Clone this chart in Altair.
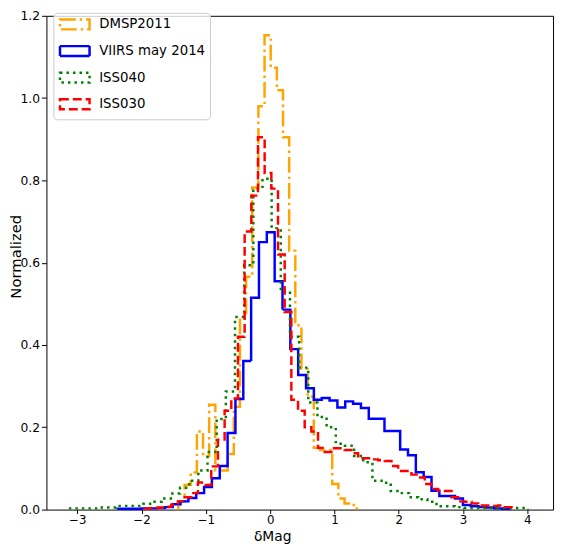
import altair as alt
import pandas as pd

series = ["DMSP2011", "VIIRS may 2014", "ISS040", "ISS030"]
colors = ["#FFA500", "#0000FF", "#008000", "#FF0000"]
dashes = [[16, 4, 2.5, 4], [1, 0], [2.5, 4.1], [9, 4]]

# histogram bins: first edge, bin width, heights
dmsp_start, dmsp_width = -1.427, 0.0957
dmsp_h = [0.02, 0.06, 0.09, 0.19, 0.13, 0.255, 0.095, 0.095, 0.135, 0.25,
          0.468, 0.566, 0.783, 0.98, 1.153, 1.074, 1.019, 0.905, 0.629, 0.448,
          0.342, 0.275, 0.15, 0.145, 0.145, 0.062, 0.027, 0.015, 0.011]

viirs_start, viirs_width = -2.37, 0.122
viirs_h = [0.002, 0.002, 0.002, 0.003, 0.003, 0.004, 0.006, 0.013, 0.02, 0.028,
           0.04, 0.055, 0.076, 0.106, 0.186, 0.269, 0.361, 0.515, 0.65, 0.674,
           0.555, 0.486, 0.39, 0.327, 0.295, 0.267, 0.271, 0.265, 0.248, 0.263,
           0.257, 0.247, 0.221, 0.221, 0.191, 0.191, 0.146, 0.132, 0.091, 0.079,
           0.046, 0.033, 0.033, 0.027, 0.011, 0.008, 0.006, 0.005, 0.003, 0.002]

iss040_start, iss040_width = -3.112, 0.1425
iss040_h = [0.003, 0.003, 0.003, 0.005, 0.005, 0.009, 0.009, 0.009, 0.014, 0.019,
            0.027, 0.039, 0.053, 0.07, 0.095, 0.14, 0.22, 0.287, 0.468, 0.594,
            0.78, 0.804, 0.684, 0.53, 0.42, 0.345, 0.26, 0.225, 0.2, 0.16,
            0.155, 0.13, 0.115, 0.07, 0.065, 0.045, 0.04, 0.03, 0.025, 0.019,
            0.008, 0.008, 0.006, 0.004, 0.004, 0.004, 0.004, 0.004, 0.004, 0.004]

iss030_start, iss030_width = -1.954, 0.1038
iss030_h = [0.003, 0.004, 0.005, 0.007, 0.012, 0.02, 0.03, 0.04, 0.066, 0.06,
            0.105, 0.17, 0.24, 0.27, 0.42, 0.676, 0.763, 0.905, 0.818, 0.78,
            0.62, 0.48, 0.267, 0.24, 0.2, 0.19, 0.15, 0.14, 0.149, 0.149,
            0.145, 0.137, 0.125, 0.125, 0.122, 0.12, 0.118, 0.106, 0.094, 0.094,
            0.085, 0.078, 0.062, 0.05, 0.045, 0.045, 0.03, 0.02, 0.019, 0.015,
            0.01, 0.01, 0.009, 0.01, 0.006]

x_ticks = [-3, -2, -1, 0, 1, 2, 3, 4]
y_ticks = [0.0, 0.2, 0.4, 0.6, 0.8, 1.0, 1.2]

specs = [(dmsp_start, dmsp_width, dmsp_h), (viirs_start, viirs_width, viirs_h),
         (iss040_start, iss040_width, iss040_h), (iss030_start, iss030_width, iss030_h)]

rows = []
for name, (start, width, heights) in zip(series, specs):
    edges = [start + width * k for k in range(len(heights) + 1)]
    pts = [(edges[0], 0.0)] + [(edges[k], h) for k, h in enumerate(heights)] + [(edges[-1], 0.0)]
    for i, (x, y) in enumerate(pts):
        rows.append({"series": name, "i": i, "x": x, "y": y})
df = pd.DataFrame(rows)

FONT = "DejaVu Sans"
color_scale = alt.Scale(domain=series, range=colors)
dash_scale = alt.Scale(domain=series, range=dashes)

layers = []
for name in series:
    layers.append(
        alt.Chart(df).transform_filter(alt.datum.series == name)
        .mark_line(interpolate="step-after", strokeWidth=2.5)
        .encode(
            x=alt.X("x:Q", scale=alt.Scale(domain=[-3.48, 4.40], nice=False, zero=False),
                    axis=alt.Axis(values=x_ticks, format="d", title="δMag",
                                  titleFontSize=14, titleFontWeight="normal", titleFont=FONT,
                                  titleX=229, titleY=31, titleBaseline="alphabetic",
                                  labelFontSize=12, labelFont=FONT, labelColor="black",
                                  labelPadding=1, tickSize=4, tickColor="black",
                                  domain=False, grid=False)),
            y=alt.Y("y:Q", scale=alt.Scale(domain=[0, 1.2], nice=False),
                    axis=alt.Axis(values=y_ticks, format=".1f", title="Normalized",
                                  titleFontSize=15, titleFontWeight="normal", titleFont=FONT,
                                  titleX=-31, titleY=244, titleAngle=270,
                                  titleBaseline="middle", titleAlign="center",
                                  labelFontSize=12.5, labelFont=FONT, labelColor="black",
                                  labelPadding=2, tickSize=5, tickColor="black",
                                  domain=False, grid=False)),
            color=alt.Color("series:N", scale=color_scale, legend=alt.Legend(title=None)),
            strokeDash=alt.StrokeDash("series:N", scale=dash_scale, legend=alt.Legend(title=None)),
            order=alt.Order("i:Q"),
        )
    )

chart = alt.layer(*layers).properties(
    width=514, height=501,
    autosize=alt.AutoSizeParams(type="none"),
    padding={"left": 39, "top": 4, "right": 2, "bottom": 32},
).configure_view(
    stroke="black", strokeWidth=1
).configure_legend(
    orient="none", legendX=7, legendY=-3,
    padding=5, fillColor="rgba(255,255,255,0.8)", strokeColor="#cccccc", cornerRadius=4,
    labelFont=FONT, labelFontSize=13.5, labelColor="black", labelOffset=28,
    symbolType="M-1,-1H5V1H-1Z", symbolSize=100, symbolStrokeWidth=2.5,
    symbolFillColor="transparent", rowPadding=6,
)

chart.save("out.html", embed_options={"renderer": "svg", "actions": False})
